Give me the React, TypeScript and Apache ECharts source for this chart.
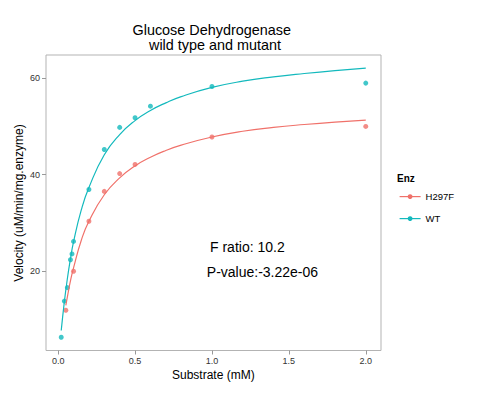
import React, { useEffect, useRef } from "react";
import * as echarts from "echarts";

// Observed data points
const wtSubstrate = [0.02, 0.04, 0.06, 0.08, 0.09, 0.1, 0.2, 0.3, 0.4, 0.5, 0.6, 1.0, 2.0];
const wtVelocity = [6.2, 13.7, 16.5, 22.3, 23.5, 26.1, 36.9, 45.2, 49.8, 51.8, 54.2, 58.3, 59.0];
const mutSubstrate = [0.05, 0.1, 0.2, 0.3, 0.4, 0.5, 1.0, 2.0];
const mutVelocity = [11.8, 19.9, 30.3, 36.5, 40.2, 42.1, 47.8, 50.0];

// Fitted curves
const wtFitX = [0.02, 0.04, 0.06, 0.08, 0.1, 0.15, 0.2, 0.3, 0.4, 0.5, 0.6, 0.7, 0.8, 1.0, 1.2, 1.4, 1.6, 1.8, 2.0];
const wtFitY = [7.6, 13.5, 18.4, 22.5, 26.0, 32.6, 37.3, 44.1, 48.3, 51.2, 53.3, 54.9, 56.2, 58.1, 59.4, 60.3, 61.0, 61.6, 62.1];
const mutFitX = [0.05, 0.06, 0.08, 0.1, 0.15, 0.2, 0.3, 0.4, 0.5, 0.6, 0.7, 0.8, 1.0, 1.2, 1.4, 1.6, 1.8, 2.0];
const mutFitY = [12.8, 14.6, 17.9, 20.6, 26.3, 30.3, 35.8, 39.3, 41.8, 43.6, 45.0, 46.1, 47.8, 49.0, 49.8, 50.4, 50.9, 51.3];

const groups = ["H297F", "WT"];
const xTicks = [0, 0.5, 1, 1.5, 2];
const yTicks = [20, 40, 60];

const RED = "#F0716A";
const TEAL = "#13B9BD";
const FONT = "Liberation Sans, Arial, sans-serif";

const zip = (xs: number[], ys: number[]) => xs.map((x, i) => [x, ys[i]]);

export default function App() {
  const ref = useRef<HTMLDivElement>(null);
  useEffect(() => {
    if (!ref.current) return;
    const chart = echarts.init(ref.current, null, { renderer: "svg" });
    chart.setOption({
      animation: false,
      backgroundColor: "#ffffff",
      textStyle: { fontFamily: FONT },
      grid: {
        left: 46,
        right: 108,
        top: 55,
        bottom: 42.5,
        show: true,
        borderColor: "#b3b3b3",
        borderWidth: 1,
        backgroundColor: "transparent",
      },
      xAxis: {
        type: "value",
        min: -0.079,
        max: 2.099,
        axisLine: { show: false, onZero: false },
        splitLine: { show: false },
        axisTick: { show: true, length: 4, lineStyle: { color: "#999" }, customValues: xTicks },
        axisLabel: {
          customValues: xTicks,
          formatter: (v: number) => v.toFixed(1),
          fontSize: 9,
          color: "#333",
          margin: 6,
          fontFamily: FONT,
        },
      },
      yAxis: {
        type: "value",
        min: 3.44,
        max: 64.84,
        axisLine: { show: false, onZero: false },
        splitLine: { show: false },
        axisTick: { show: true, length: 4, lineStyle: { color: "#999" }, customValues: yTicks },
        axisLabel: {
          customValues: yTicks,
          fontSize: 9,
          color: "#333",
          margin: 6,
          fontFamily: FONT,
        },
      },
      legend: {
        data: groups,
        orient: "vertical",
        left: 399,
        top: 191.6,
        padding: 0,
        itemWidth: 21,
        itemHeight: 6,
        itemGap: 12,
        lineStyle: { width: 1.2 },
        textStyle: { fontSize: 9.5, color: "#000", fontFamily: FONT },
      },
      series: [
        {
          name: groups[0],
          type: "line",
          data: zip(mutFitX, mutFitY),
          smooth: true,
          symbol: "circle",
          symbolSize: 5,
          showSymbol: false,
          lineStyle: { color: RED, width: 1.2 },
          itemStyle: { color: RED },
        },
        {
          name: groups[1],
          type: "line",
          data: zip(wtFitX, wtFitY),
          smooth: true,
          symbol: "circle",
          symbolSize: 5,
          showSymbol: false,
          lineStyle: { color: TEAL, width: 1.2 },
          itemStyle: { color: TEAL },
        },
        {
          name: groups[0],
          type: "scatter",
          data: zip(mutSubstrate, mutVelocity),
          symbolSize: 5,
          itemStyle: { color: RED },
        },
        {
          name: groups[1],
          type: "scatter",
          data: zip(wtSubstrate, wtVelocity),
          symbolSize: 5,
          itemStyle: { color: TEAL },
        },
      ],
      graphic: [
        {
          type: "text",
          x: 211.7,
          y: 30,
          style: { text: "Glucose Dehydrogenase", fontSize: 14.4, fill: "#000", align: "center", verticalAlign: "middle", fontFamily: FONT },
        },
        {
          type: "text",
          x: 215,
          y: 44.5,
          style: { text: "wild type and mutant", fontSize: 14.4, fill: "#000", align: "center", verticalAlign: "middle", fontFamily: FONT },
        },
        {
          type: "text",
          x: 213.3,
          y: 374.5,
          style: { text: "Substrate (mM)", fontSize: 12, fill: "#000", align: "center", verticalAlign: "middle", fontFamily: FONT },
        },
        {
          type: "text",
          x: 19,
          y: 203,
          rotation: Math.PI / 2,
          style: { text: "Velocity (uM/min/mg.enzyme)", fontSize: 12, fill: "#000", align: "center", verticalAlign: "middle", fontFamily: FONT },
        },
        {
          type: "text",
          x: 397,
          y: 178,
          style: { text: "Enz", fontSize: 10, fontWeight: "bold", fill: "#000", align: "left", verticalAlign: "middle", fontFamily: FONT },
        },
        {
          type: "text",
          x: 210,
          y: 247,
          style: { text: "F ratio: 10.2", fontSize: 14, fill: "#000", align: "left", verticalAlign: "middle", fontFamily: FONT },
        },
        {
          type: "text",
          x: 206.8,
          y: 272,
          style: { text: "P-value:-3.22e-06", fontSize: 14, fill: "#000", align: "left", verticalAlign: "middle", fontFamily: FONT },
        },
      ],
    });
    return () => chart.dispose();
  }, []);
  return (
    <div
      ref={ref}
      style={{ position: "fixed", left: 0, top: 0, width: 489, height: 393, background: "#fff" }}
    />
  );
}
